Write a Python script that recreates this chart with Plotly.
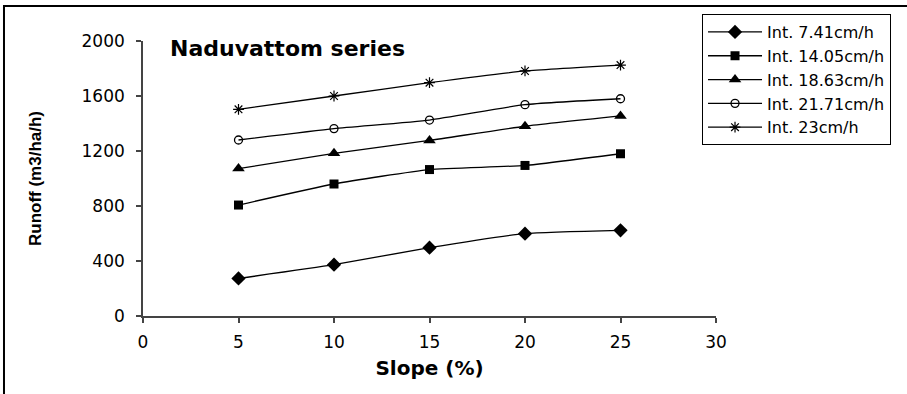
import plotly.graph_objects as go

# Slope gradient (%) and runoff (m3/ha/h) for each rainfall intensity
slope = [5, 10, 15, 20, 25]
series_names = ["Int. 7.41cm/h", "Int. 14.05cm/h", "Int. 18.63cm/h",
                "Int. 21.71cm/h", "Int. 23cm/h"]
runoff_741 = [273, 373, 497, 599, 623]
runoff_1405 = [807, 960, 1065, 1095, 1180]
runoff_1863 = [1072, 1183, 1277, 1380, 1455]
runoff_2171 = [1280, 1363, 1425, 1537, 1580]
runoff_23 = [1503, 1600, 1697, 1782, 1825]

x_ticks = [0, 5, 10, 15, 20, 25, 30]
y_ticks = [0, 400, 800, 1200, 1600, 2000]

all_runoff = [runoff_741, runoff_1405, runoff_1863, runoff_2171, runoff_23]
markers = [
    dict(symbol="diamond", size=11, color="black"),
    dict(symbol="square", size=9, color="black"),
    dict(symbol="triangle-up", size=11, color="black"),
    dict(symbol="circle-open", size=8, color="black", line=dict(width=1.3, color="black")),
    dict(symbol="asterisk-open", size=9, color="black", line=dict(width=1.2, color="black")),
]

fig = go.Figure()
for name, vals, mk in zip(series_names, all_runoff, markers):
    fig.add_trace(go.Scatter(
        x=slope, y=vals, name=name, mode="lines+markers",
        line=dict(color="black", width=1.3, shape="spline", smoothing=0.5),
        marker=mk,
    ))

axis_common = dict(
    showgrid=False, zeroline=False, showline=True,
    linecolor="#444444", linewidth=1.6,
    ticks="outside", ticklen=5, tickwidth=1.6, tickcolor="#444444",
    tickfont=dict(family="DejaVu Sans", size=17, color="black"),
)

fig.update_xaxes(
    range=[0, 30], tickvals=x_ticks, ticklabelstandoff=5,
    title=dict(text="<b>Slope (%)</b>",
               font=dict(family="DejaVu Sans", size=20, color="black"),
               standoff=10),
    **axis_common,
)
fig.update_yaxes(
    range=[0, 2000], tickvals=y_ticks, ticklabelstandoff=8,
    title=dict(text="<b>Runoff (m3/ha/h)</b>",
               font=dict(family="Liberation Sans", size=17, color="black"),
               standoff=36),
    **axis_common,
)

fig.add_annotation(
    text="<b>Naduvattom series</b>", xref="paper", yref="paper",
    x=0.0436, y=0.9727, xanchor="left", yanchor="middle", showarrow=False,
    font=dict(family="DejaVu Sans", size=22, color="black"),
)

# outer frame around the whole chart
fig.add_shape(
    type="rect", xref="paper", yref="paper",
    x0=-0.2426, y0=-0.6, x1=1.6, y1=1.127,
    line=dict(color="black", width=2), fillcolor="rgba(0,0,0,0)", layer="below",
)

fig.update_layout(
    width=907, height=394,
    margin=dict(l=143, r=191, t=41, b=78),
    paper_bgcolor="white", plot_bgcolor="white",
    showlegend=True,
    legend=dict(
        x=0.9756, y=1.098, xanchor="left", yanchor="top",
        bgcolor="white", bordercolor="black", borderwidth=1,
        font=dict(family="DejaVu Sans", size=16, color="black"),
        tracegroupgap=0, itemwidth=54,
    ),
)

fig.write_html("out.html")
